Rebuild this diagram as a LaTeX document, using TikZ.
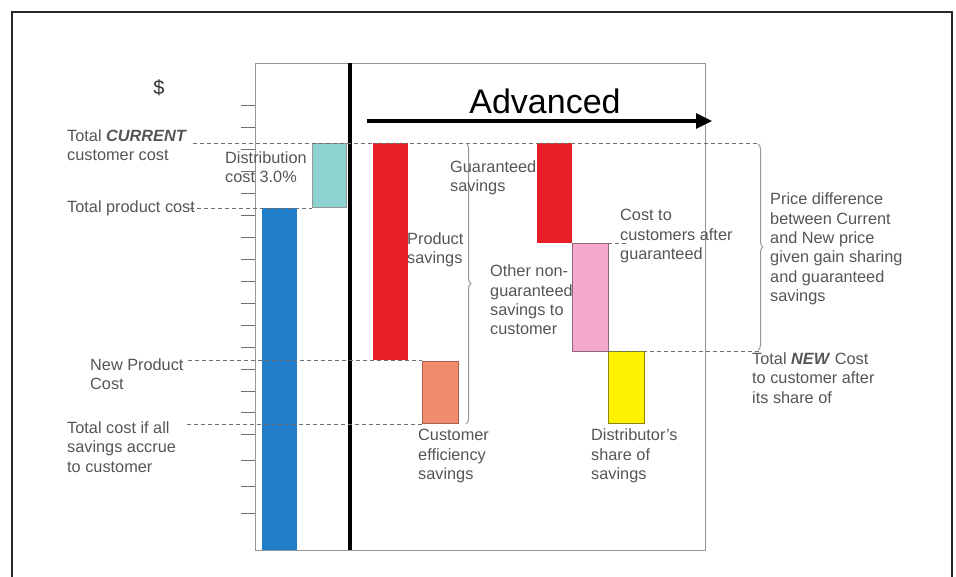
\documentclass[tikz,border=0pt]{standalone}
\usepackage{fontspec}
\setmainfont{Liberation Sans}
\usetikzlibrary{arrows.meta,decorations.pathreplacing}
\definecolor{txtgray}{RGB}{85,85,85}
\definecolor{linegray}{RGB}{110,110,110}
\definecolor{framegray}{RGB}{150,150,150}
\definecolor{barblue}{RGB}{33,125,200}
\definecolor{barteal}{RGB}{140,211,208}
\definecolor{barred}{RGB}{232,30,40}
\definecolor{barsalmon}{RGB}{242,140,110}
\definecolor{barpink}{RGB}{244,168,204}
\definecolor{baryellow}{RGB}{255,242,0}
\tikzset{
  lbl/.style={anchor=west, inner sep=0pt, align=left, text=txtgray,
    font=\fontsize{16.3}{19.3}\selectfont},
  dashln/.style={draw=linegray, line width=0.9pt, dash pattern=on 4pt off 3pt},
  bracestyle/.style={draw=framegray, line width=1pt,
    decorate, decoration={brace, amplitude=5pt}},
  tickln/.style={draw=linegray, line width=1pt},
}
\begin{document}
\begin{tikzpicture}[x=1pt,y=-1pt]
\useasboundingbox (0,0) rectangle (956,576);
% outer frame
\draw[line width=2.5pt, draw=black!85] (12,590) -- (12,12) -- (952,12) -- (952,590);
% inner plot frame
\draw[draw=framegray, line width=1pt] (255,63) rectangle (705,550);
% ticks
\foreach \ty in {105,127,149,171,193,215,237,259,281,303,325,347,369,391,412,434,460,486,513}
  \draw[tickln] (241,\ty) -- (255,\ty);
% bars
\fill[barblue] (262,208) rectangle (297,550);
\draw[fill=barteal, draw=framegray, line width=0.8pt] (312,143) rectangle (346,207);
\fill[barred] (373,143) rectangle (408,360);
\draw[fill=barsalmon, draw=barsalmon!70!black, line width=0.8pt] (422,361) rectangle (458,423);
\fill[barred] (537,143) rectangle (572,243);
\draw[fill=barpink, draw=barpink!60!black, line width=0.8pt] (572,243) rectangle (608,351);
\draw[fill=baryellow, draw=baryellow!55!black, line width=0.8pt] (608,351) rectangle (644,423);
% thick divider
\draw[line width=4pt] (350,63) -- (350,550);
% dashed reference lines
\coordinate (c1a) at (193,143); \coordinate (c1b) at (760,143);
\coordinate (c2a) at (190,208); \coordinate (c2b) at (312,208);
\coordinate (c3a) at (188,360); \coordinate (c3b) at (422,360);
\coordinate (c4a) at (187,424); \coordinate (c4b) at (422,424);
\coordinate (c5a) at (608,351); \coordinate (c5b) at (760,351);
\coordinate (c6a) at (608,243); \coordinate (c6b) at (626,243);
\draw[dashln] (c1a) -- (c1b);
\draw[dashln] (c2a) -- (c2b);
\draw[dashln] (c3a) -- (c3b);
\draw[dashln] (c4a) -- (c4b);
\draw[dashln] (c5a) -- (c5b);
\draw[dashln] (c6a) -- (c6b);
% braces
\coordinate (b1a) at (466,143); \coordinate (b1b) at (466,424);
\coordinate (b2a) at (758,144); \coordinate (b2b) at (758,350);
\draw[bracestyle] (b1a) -- (b1b);
\draw[bracestyle] (b2a) -- (b2b);
% Advanced arrow
\coordinate (arA) at (367,121); \coordinate (arB) at (712,121);
\draw[line width=3.2pt, -{Triangle[length=16pt,width=15pt]}] (arA) -- (arB);
\node[inner sep=0pt, font=\fontsize{34}{38}\selectfont] (adv) at (545,101) {Advanced};
% labels
\node[inner sep=0pt, text=black!80, font=\fontsize{20}{24}\selectfont] (dollar) at (159,88) {\$};
\node[lbl] (curr) at (67,145) {Total \textbf{\textit{CURRENT}}\\customer cost};
\node[lbl] (prodc) at (67,208) {Total product cost};
\node[lbl] (dist) at (225,167) {Distribution\\cost 3.0\%};
\node[lbl] (newprod) at (90,374) {New Product\\Cost};
\node[lbl] (allsav) at (67,447) {Total cost if all\\savings accrue\\to customer};
\node[lbl] (psav) at (407,250) {Product\\savings};
\node[lbl] (guar) at (450,178) {Guaranteed\\savings};
\node[lbl] (other) at (490,300) {Other non-\\guaranteed\\savings to\\customer};
\node[lbl] (costto) at (620,236) {Cost to\\customers after\\guaranteed};
\node[lbl] (custeff) at (418,456) {Customer\\efficiency\\savings};
\node[lbl] (distshare) at (591,456) {Distributor's\\share of\\savings};
\node[lbl] (newcost) at (752,378) {Total \textbf{\textit{NEW}} Cost\\to customer after\\its share of};
\node[lbl] (pricediff) at (770,249) {Price difference\\between Current\\and New price\\given gain sharing\\and guaranteed\\savings};
\end{tikzpicture}
\end{document}
